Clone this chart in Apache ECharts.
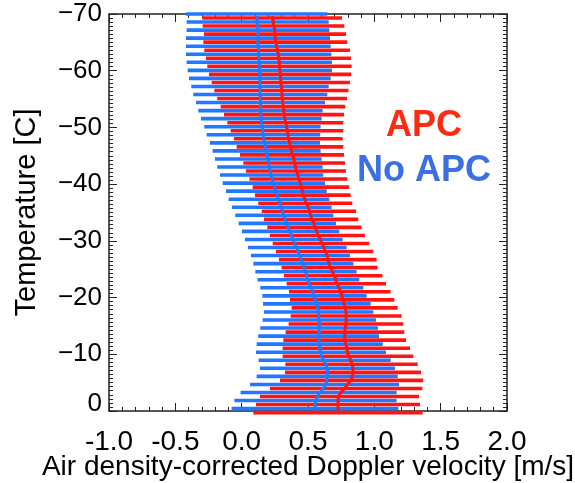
<!DOCTYPE html>
<html>
<head>
<meta charset="utf-8">
<script src="https://cdn.jsdelivr.net/npm/echarts@6/dist/echarts.min.js"></script>
<style>
  html, body { margin: 0; padding: 0; background: #fff; }
  #chart { width: 575px; height: 483px; }
</style>
</head>
<body>
<div id="chart"></div>
<script>
// Temperature bin centres [C], from coldest to warmest
const tempLevels = [
  -69.65, -68.23, -66.81, -65.39, -63.97, -62.55, -61.13, -59.71, -58.29, -56.87,
  -55.45, -54.03, -52.61, -51.19, -49.77, -48.35, -46.93, -45.51, -44.09, -42.67,
  -41.25, -39.83, -38.41, -36.99, -35.57, -34.15, -32.73, -31.31, -29.89, -28.47,
  -27.05, -25.63, -24.21, -22.79, -21.37, -19.95, -18.53, -17.11, -15.69, -14.27,
  -12.85, -11.43, -10.01, -8.59, -7.17, -5.75, -4.33, -2.91, -1.49, -0.07
];

// No APC: lower / upper end of the spread and the mean velocity [m/s]
const noApcLow = [
  -0.420, -0.415, -0.415, -0.420, -0.420, -0.420, -0.415, -0.407, -0.397, -0.380,
  -0.365, -0.344, -0.327, -0.307, -0.282, -0.264, -0.239, -0.219, -0.201, -0.184,
  -0.163, -0.143, -0.118, -0.098, -0.073, -0.048, -0.023, 0.002, 0.025, 0.048,
  0.070, 0.088, 0.103, 0.120, 0.140, 0.156, 0.161, 0.168, 0.158, 0.140,
  0.125, 0.113, 0.108, 0.128, 0.138, 0.113, 0.063, -0.008, -0.055, -0.076
];
const noApcHigh = [
  0.646, 0.656, 0.661, 0.666, 0.671, 0.676, 0.681, 0.681, 0.671, 0.656,
  0.646, 0.628, 0.610, 0.603, 0.595, 0.592, 0.590, 0.595, 0.603, 0.610,
  0.615, 0.628, 0.641, 0.661, 0.678, 0.691, 0.711, 0.736, 0.761, 0.791,
  0.816, 0.842, 0.867, 0.887, 0.917, 0.942, 0.972, 0.992, 1.012, 1.027,
  1.035, 1.063, 1.088, 1.123, 1.156, 1.176, 1.186, 1.168, 1.168, 1.181
];
const noApcMean = [
  0.113, 0.121, 0.123, 0.123, 0.126, 0.128, 0.133, 0.137, 0.137, 0.138,
  0.141, 0.142, 0.142, 0.148, 0.157, 0.164, 0.176, 0.188, 0.201, 0.213,
  0.226, 0.243, 0.262, 0.282, 0.303, 0.322, 0.344, 0.369, 0.393, 0.420,
  0.443, 0.465, 0.485, 0.504, 0.529, 0.549, 0.567, 0.580, 0.585, 0.584,
  0.582, 0.588, 0.598, 0.626, 0.647, 0.645, 0.625, 0.580, 0.557, 0.553
];

// APC: lower / upper end of the spread and the mean velocity [m/s]
const apcLow = [
  -0.297, -0.294, -0.284, -0.289, -0.282, -0.269, -0.259, -0.246, -0.226, -0.206,
  -0.184, -0.158, -0.133, -0.108, -0.083, -0.058, -0.038, -0.013, 0.012, 0.032,
  0.058, 0.083, 0.100, 0.125, 0.151, 0.168, 0.193, 0.213, 0.234, 0.259,
  0.281, 0.301, 0.319, 0.339, 0.357, 0.364, 0.377, 0.369, 0.354, 0.331,
  0.314, 0.309, 0.309, 0.329, 0.327, 0.289, 0.213, 0.138, 0.108, 0.088
];
const apcHigh = [
  0.756, 0.774, 0.786, 0.796, 0.816, 0.824, 0.829, 0.826, 0.816, 0.806,
  0.794, 0.781, 0.771, 0.766, 0.766, 0.761, 0.766, 0.771, 0.779, 0.786,
  0.796, 0.811, 0.821, 0.834, 0.862, 0.879, 0.904, 0.929, 0.962, 0.992,
  1.017, 1.025, 1.060, 1.088, 1.123, 1.151, 1.176, 1.206, 1.219, 1.226,
  1.239, 1.269, 1.294, 1.327, 1.352, 1.369, 1.362, 1.337, 1.344, 1.364
];
const apcMean = [
  0.230, 0.240, 0.251, 0.254, 0.267, 0.278, 0.285, 0.290, 0.295, 0.300,
  0.305, 0.312, 0.319, 0.329, 0.342, 0.352, 0.364, 0.379, 0.396, 0.409,
  0.427, 0.447, 0.461, 0.480, 0.507, 0.524, 0.549, 0.571, 0.598, 0.626,
  0.649, 0.663, 0.690, 0.714, 0.740, 0.758, 0.777, 0.788, 0.787, 0.779,
  0.777, 0.789, 0.802, 0.828, 0.840, 0.829, 0.788, 0.738, 0.726, 0.726
];

const xTicks = { min: -1.0, max: 2.0, step: 0.5 };
const yTicks = { min: -70, max: 0, step: 10 };

const RED = '#ff1414';
const BLUE = '#1f78ff';
const FONT = "'Liberation Sans', Arial, Helvetica, sans-serif";

// Each spread bar sits a little above (No APC) or below (APC) its bin centre
function spreadSeries(name, lows, highs, color, shift) {
  return {
    name: name,
    type: 'custom',
    clip: false,
    encode: { x: [0, 1], y: 2 },
    data: tempLevels.map((t, i) => [lows[i], highs[i], t]),
    renderItem: function (params, api) {
      const t = api.value(2) + shift;
      const a = api.coord([api.value(0), t]);
      const b = api.coord([api.value(1), t]);
      return {
        type: 'line',
        shape: { x1: a[0], y1: a[1], x2: b[0], y2: b[1] },
        style: { stroke: color, lineWidth: 3.6, lineCap: 'butt' }
      };
    }
  };
}

function meanSeries(name, means, color) {
  return {
    name: name,
    type: 'line',
    smooth: 0.35,
    symbol: 'none',
    data: tempLevels.map((t, i) => [means[i], t]),
    lineStyle: { color: color, width: 3 },
    z: 5
  };
}

const tickStyle = { color: '#222', width: 1 };

function xAxisDef(pos, showLabels) {
  return {
    type: 'value', position: pos,
    min: xTicks.min, max: xTicks.max, interval: xTicks.step,
    axisLine: { onZero: false, lineStyle: { color: '#222', width: 1.5 } },
    axisTick: { inside: true, length: 8, lineStyle: tickStyle },
    minorTick: { show: true, splitNumber: 5, length: 4, lineStyle: tickStyle },
    splitLine: { show: false },
    axisLabel: {
      show: showLabels, margin: 17, color: '#000', fontSize: 28, fontFamily: FONT,
      formatter: v => v.toFixed(1)
    },
    name: showLabels ? 'Air density-corrected Doppler velocity [m/s]' : '',
    nameLocation: 'middle', nameGap: 42, nameMoveOverlap: false,
    nameTextStyle: { color: '#000', fontSize: 28, fontFamily: FONT }
  };
}

function yAxisDef(pos, showLabels) {
  return {
    type: 'value', position: pos, inverse: true,
    min: yTicks.min, max: yTicks.max, interval: yTicks.step,
    axisLine: { onZero: false, lineStyle: { color: '#222', width: 1.5 } },
    axisTick: { inside: true, length: 8, lineStyle: tickStyle },
    minorTick: { show: true, splitNumber: 14, length: 4, lineStyle: tickStyle },
    splitLine: { show: false },
    axisLabel: {
      show: showLabels, margin: 7, color: '#000', fontSize: 26, fontFamily: FONT,
      // the bottom label is lifted clear of the velocity labels
      formatter: v => v === 0 ? '{zero|0}' : '{n|' + String(v).replace('-', '\u2212') + '}',
      rich: {
        n: { fontSize: 26, fontFamily: FONT, color: '#000' },
        zero: { fontSize: 26, fontFamily: FONT, color: '#000', padding: [0, 0, 14, 0] }
      }
    },
    name: showLabels ? 'Temperature [C]' : '',
    nameLocation: 'middle', nameGap: 68, nameRotate: 90,
    nameTextStyle: { color: '#000', fontSize: 29, fontFamily: FONT }
  };
}

const chart = echarts.init(document.getElementById('chart'), null, { renderer: 'canvas' });
chart.setOption({
  animation: false,
  backgroundColor: '#fff',
  grid: { left: 109, right: 68, top: 14, bottom: 72, containLabel: false, outerBoundsMode: 'none' },
  xAxis: [xAxisDef('bottom', true), xAxisDef('top', false)],
  yAxis: [yAxisDef('left', true), yAxisDef('right', false)],
  series: [
    spreadSeries('No APC spread', noApcLow, noApcHigh, BLUE, -0.355),
    spreadSeries('APC spread', apcLow, apcHigh, RED, 0.355),
    meanSeries('No APC', noApcMean, BLUE),
    meanSeries('APC', apcMean, RED)
  ],
  graphic: [
    {
      type: 'text', x: 424, y: 126.5, z: 10,
      style: {
        text: 'APC', fill: '#ff2a12', font: 'bold 36px ' + FONT,
        textAlign: 'center', textVerticalAlign: 'middle'
      }
    },
    {
      type: 'text', x: 424, y: 171.5, z: 10,
      style: {
        text: 'No APC', fill: '#3a6fe6', font: 'bold 36px ' + FONT,
        textAlign: 'center', textVerticalAlign: 'middle'
      }
    }
  ]
});
</script>
</body>
</html>
